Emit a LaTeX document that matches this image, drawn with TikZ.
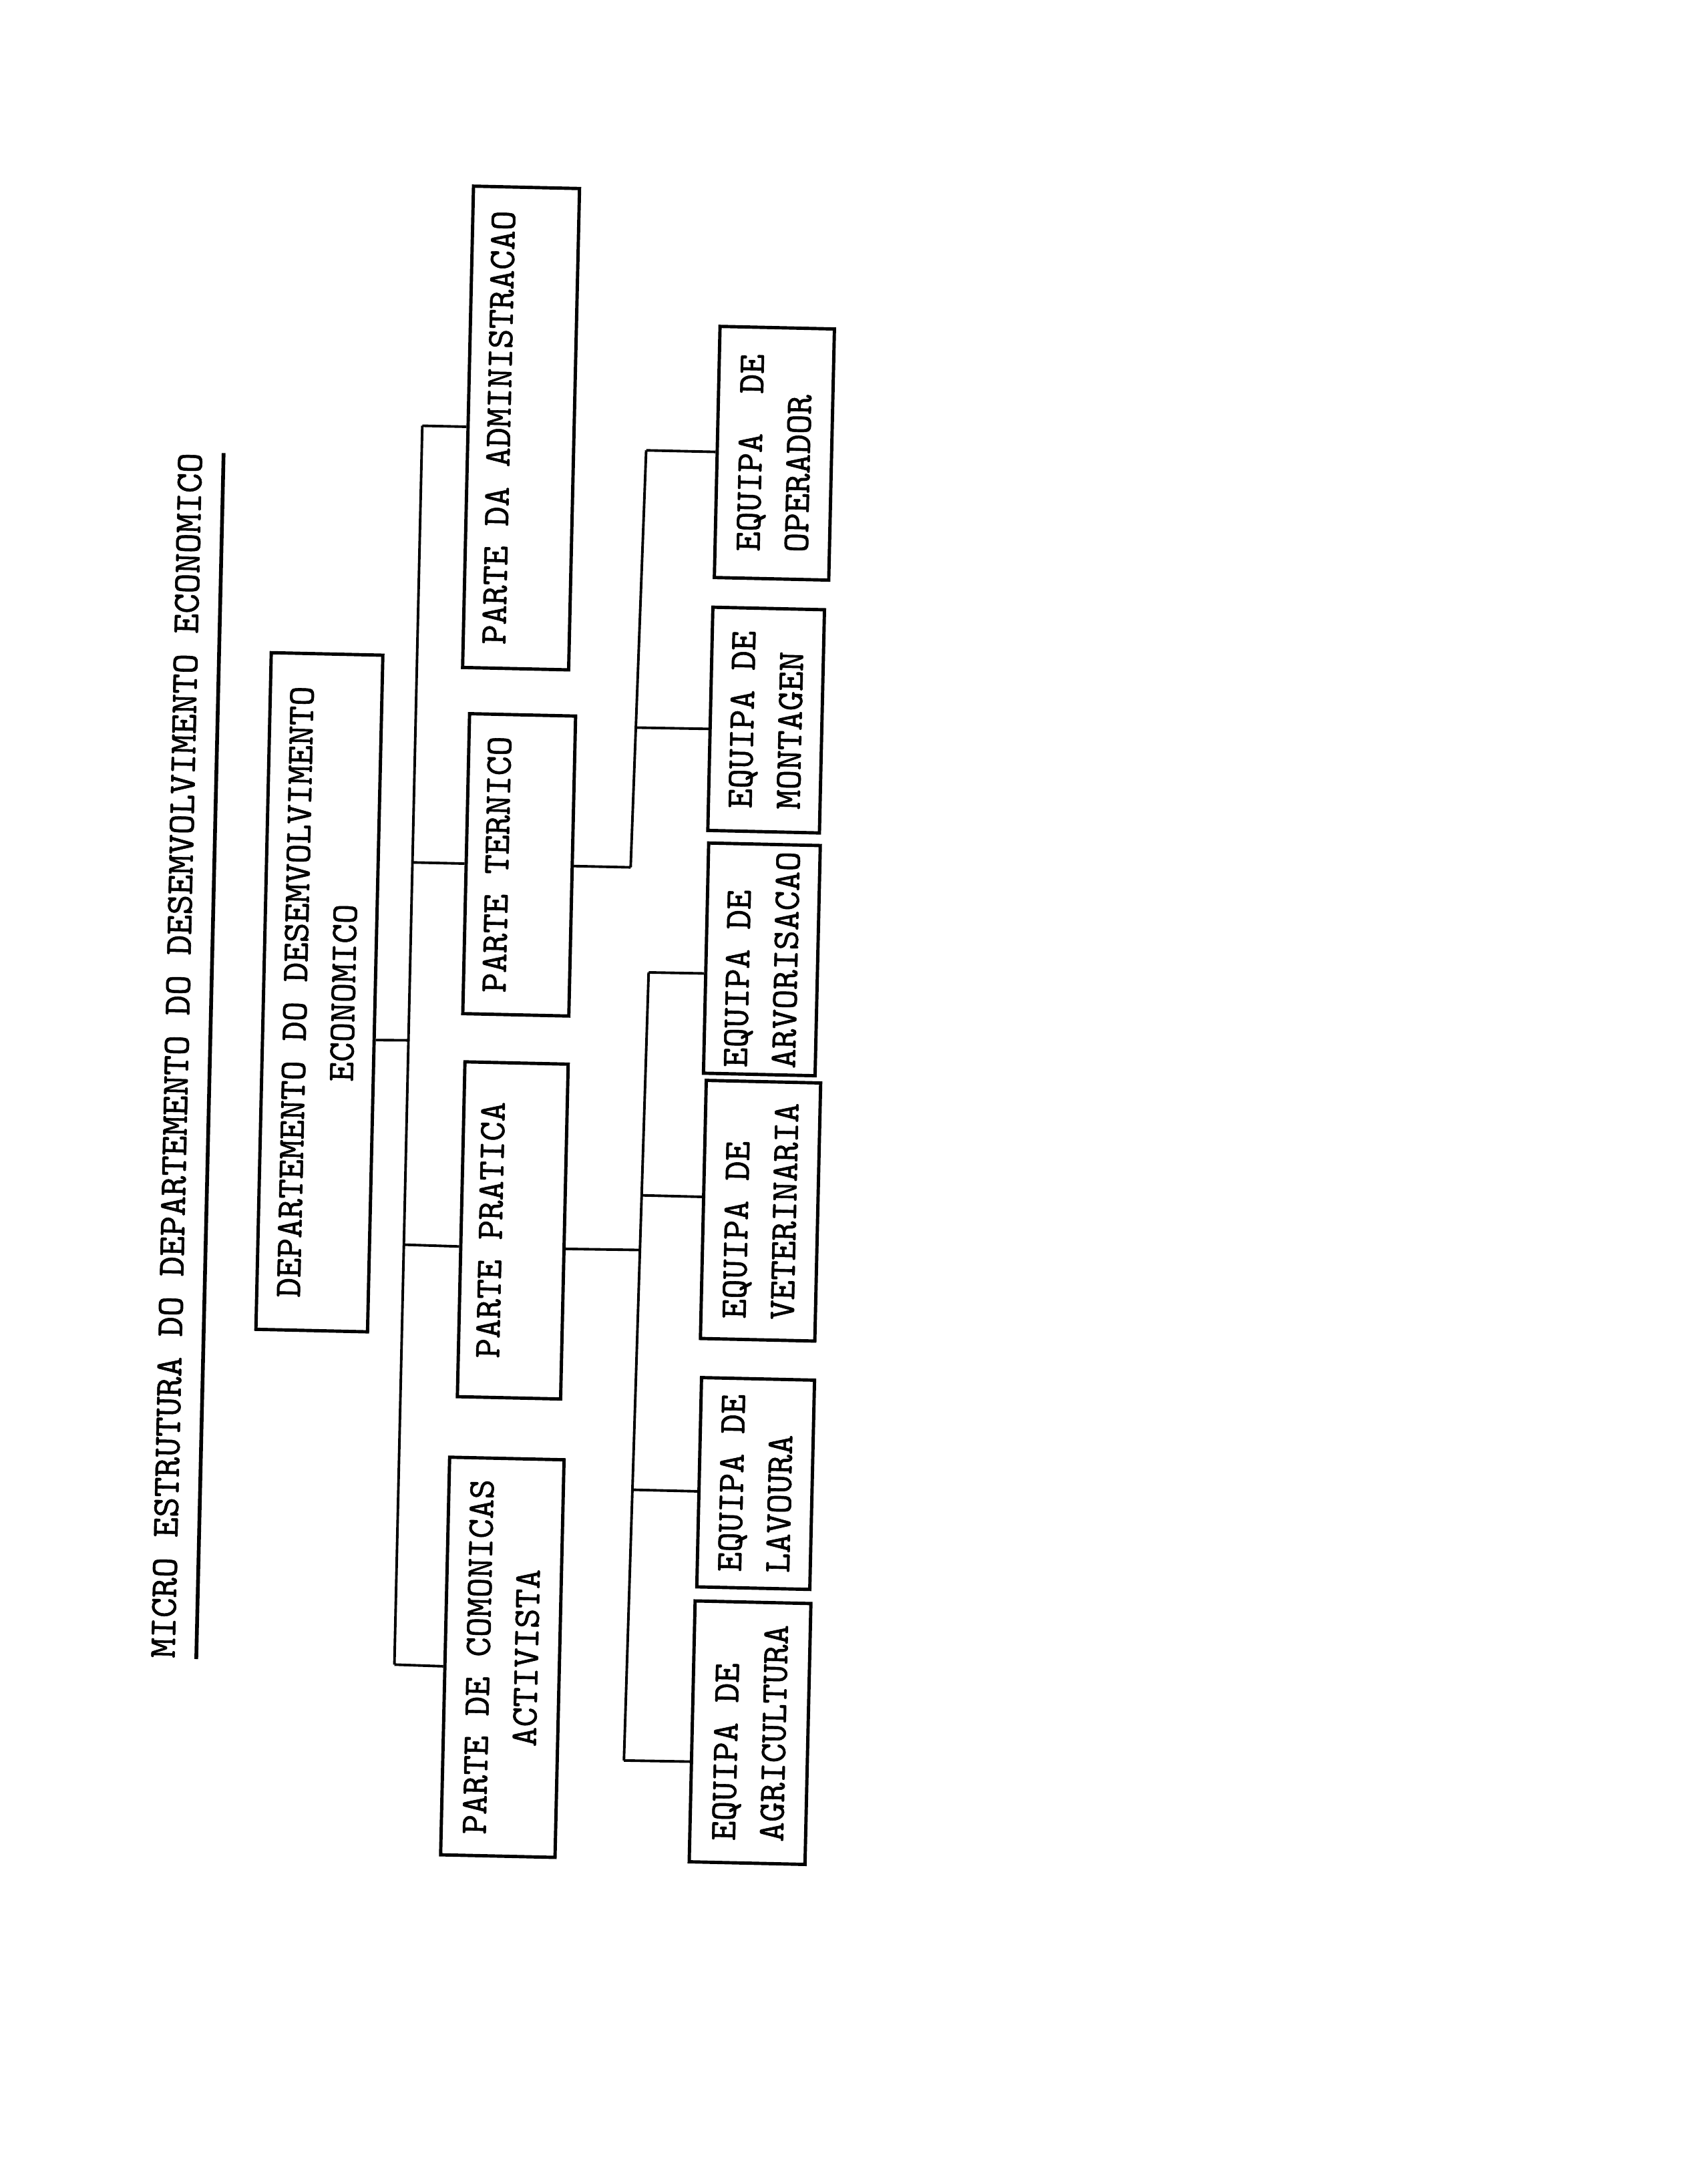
\documentclass[tikz,border=0pt]{standalone}
\usepackage{fontspec}
\usetikzlibrary{positioning}

\newfontfamily\typefont{lmmono10-regular.otf}[FakeBold=1]
\newcommand\pxu{0.20893mm}
\newcommand\boxfont{\fontsize{16}{20.5}\selectfont\typefont}

\tikzset{
  box/.style={draw, line width=1.4pt, rotate=88.7, inner sep=0pt, align=center, font=\boxfont},
  team/.style={box, align=left},
  single/.style={text height=9.8pt, text depth=19pt},
  dims/.style 2 args={minimum width=#1*\pxu, minimum height=#2*\pxu},
  link/.style={line width=1.1pt},
}

\begin{document}
\begin{tikzpicture}[x=0.20893mm, y=-0.20893mm]
  \fill[white] (0,0) rectangle (1210,1565);

  \begin{scope}[rotate around={-1.29:(605,780)}]
  % title
  \node[rotate=88.7, font=\fontsize{16.3}{20}\selectfont\typefont, inner xsep=0pt, inner ysep=9pt, text depth=0pt] (title) at (126,767)
    {MICRO ESTRUTURA DO DEPARTEMENTO DO DESEMVOLVIMENTO ECONOMICO};
  \draw[line width=1.6pt] (title.south east) -- (title.south west);

  % departamento
  \node[box, dims={485}{80}] (dept) at (227.4,719.5) {DEPARTEMENTO DO DESEMVOLVIMENTO\\ECONOMICO};

  % partes
  \node[box, single, dims={345}{76}] (admin) at (362.8,312) {PARTE DA ADMINISTRACAO};
  \node[box, single, dims={215}{76}] (tecnico) at (368.5,625) {PARTE TERNICO};
  \node[box, single, dims={240}{74}] (pratica) at (369.8,887) {PARTE PRATICA};
  \node[box, dims={285}{82}] (comon) at (369.2,1193) {PARTE DE COMONICAS\\ACTIVISTA};

  % equipas
  \node[team, dims={180}{82}] (operador) at (544.7,326) {EQUIPA~~DE\\OPERADOR};
  \node[team, dims={160}{80}] (montagem) at (543.1,517.3) {EQUIPA DE\\MONTAGEN};
  \node[team, dims={165}{80}] (arvor) at (543.9,688.8) {EQUIPA DE\\ARVORISACAO};
  \node[team, dims={185}{82}] (veter) at (547,868.9) {EQUIPA DE\\VETERINARIA};
  \node[team, dims={150}{81}] (lavoura) at (547.9,1064.4) {EQUIPA DE\\LAVOURA};
  \node[team, dims={187}{83}] (agric) at (547.9,1243) {EQUIPA DE\\AGRICULTURA};

  % main trunk
  \coordinate (j0) at (292,752.5);
  \coordinate (j1) at (292,312);
  \coordinate (j2) at (292,625);
  \coordinate (j3) at (292,899);
  \coordinate (j4) at (292,1200);
  \draw[link] (j1) -- (j4);
  \draw[link] (dept.231) -- (j0);
  \draw[link] (j1) -- (admin.north);
  \draw[link] (j2) -- (tecnico.north);
  \draw[link] (j3) -- (pratica.108);
  \draw[link] (j4) -- (comon.100);

  % tecnico
  \coordinate (a0) at (448.4,625);
  \coordinate (a1) at (452.8,326);
  \coordinate (a2) at (449.9,524.8);
  \draw[link] (a1) -- (a0);
  \draw[link] (tecnico.south) -- (a0);
  \draw[link] (a1) -- (operador.north);
  \draw[link] (a2) -- (montagem.100);

  % pratica
  \coordinate (b0) at (461.2,899);
  \coordinate (b1) at (463,700);
  \coordinate (b2) at (461.6,859.8);
  \coordinate (b3) at (459.7,1070.9);
  \coordinate (b4) at (458,1265);
  \draw[link] (b1) -- (b4);
  \draw[link] (pratica.252) -- (b0);
  \draw[link] (b1) -- (arvor.105);
  \draw[link] (b2) -- (veter.78);
  \draw[link] (b3) -- (lavoura.99);
  \draw[link] (b4) -- (agric.117);
  \end{scope}
\end{tikzpicture}
\end{document}
